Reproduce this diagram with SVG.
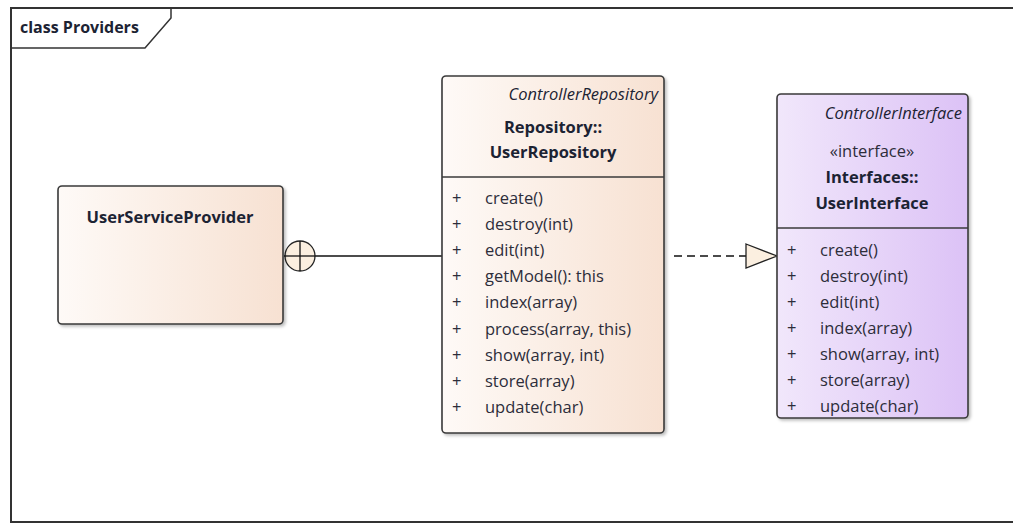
<svg xmlns="http://www.w3.org/2000/svg" width="1013" height="523" viewBox="0 0 1013 523">
<style>
text{font-family:"Open Sans","Noto Sans","Liberation Sans",sans-serif;fill:#1c2333}
.t{font-size:16.5px;font-weight:bold}
.st{font-size:16.5px;font-style:italic}
.m{font-size:16.5px;fill:#2d2d3a}
.box{stroke:#3a3a3a;stroke-width:1.6}
.div{stroke:#3a3a3a;stroke-width:1.6}
</style>
<defs>
<linearGradient id="gPeach" x1="0" x2="1" y1="0" y2="0">
<stop offset="0" stop-color="#fefaf7"/>
<stop offset="1" stop-color="#f7e1d2"/>
</linearGradient>
<linearGradient id="gPurple" x1="0" x2="1" y1="0" y2="0">
<stop offset="0" stop-color="#f1e7fb"/>
<stop offset="1" stop-color="#dcc2f6"/>
</linearGradient>
<filter id="sh" x="-10%" y="-10%" width="130%" height="130%">
<feDropShadow dx="2" dy="2" stdDeviation="1.5" flood-color="#000" flood-opacity="0.25"/>
</filter>
</defs>
<rect width="1013" height="523" fill="#ffffff"/>
<g id="frame">
<path d="M1013,8 H11 V522 H1013" fill="none" stroke="#333" stroke-width="2"/>
<path d="M11,48 H145 L171,18 V8" fill="none" stroke="#333" stroke-width="1.5"/>
<text x="20" y="33" class="t" style="font-size:16px">class Providers</text>
</g>
<g id="connectors">
<line x1="284" y1="256" x2="442" y2="256" stroke="#111" stroke-width="1.3"/>
<circle cx="300" cy="256" r="15" fill="#fbefe0" stroke="#222" stroke-width="1.3"/>
<line x1="285" y1="256" x2="315" y2="256" stroke="#111" stroke-width="1.3"/>
<line x1="300" y1="241" x2="300" y2="271" stroke="#111" stroke-width="1.3"/>
<line x1="674" y1="256" x2="746" y2="256" stroke="#111" stroke-width="1.3" stroke-dasharray="8,5"/>
<polygon points="746,244 777,256 746,268" fill="#fbefe0" stroke="#222" stroke-width="1.3"/>
</g>
<g id="UserServiceProvider">
<rect x="58" y="186" width="225" height="138" rx="4" fill="url(#gPeach)" class="box" filter="url(#sh)"/>
<text x="170" y="223" class="t" text-anchor="middle">UserServiceProvider</text>
</g>
<g id="UserRepository">
<rect x="442" y="76" width="222" height="357" rx="4" fill="url(#gPeach)" class="box" filter="url(#sh)"/>
<line x1="442" y1="177" x2="664" y2="177" class="div"/>
<text x="658" y="100" class="st" text-anchor="end">ControllerRepository</text>
<text x="553" y="133" class="t" text-anchor="middle">Repository::</text>
<text x="553" y="158" class="t" text-anchor="middle">UserRepository</text>
<text x="452" y="204" class="m">+</text><text x="485" y="204" class="m">create()</text>
<text x="452" y="230" class="m">+</text><text x="485" y="230" class="m">destroy(int)</text>
<text x="452" y="256" class="m">+</text><text x="485" y="256" class="m">edit(int)</text>
<text x="452" y="282" class="m">+</text><text x="485" y="282" class="m">getModel(): this</text>
<text x="452" y="308" class="m">+</text><text x="485" y="308" class="m">index(array)</text>
<text x="452" y="335" class="m">+</text><text x="485" y="335" class="m">process(array, this)</text>
<text x="452" y="361" class="m">+</text><text x="485" y="361" class="m">show(array, int)</text>
<text x="452" y="387" class="m">+</text><text x="485" y="387" class="m">store(array)</text>
<text x="452" y="413" class="m">+</text><text x="485" y="413" class="m">update(char)</text>
</g>
<g id="UserInterface">
<rect x="777" y="94" width="191" height="324" rx="4" fill="url(#gPurple)" class="box" filter="url(#sh)"/>
<line x1="777" y1="228" x2="968" y2="228" class="div"/>
<text x="962" y="119" class="st" text-anchor="end">ControllerInterface</text>
<text x="872" y="157" class="m" text-anchor="middle">«interface»</text>
<text x="872" y="183" class="t" text-anchor="middle">Interfaces::</text>
<text x="872" y="209" class="t" text-anchor="middle">UserInterface</text>
<text x="787" y="256" class="m">+</text><text x="820" y="256" class="m">create()</text>
<text x="787" y="282" class="m">+</text><text x="820" y="282" class="m">destroy(int)</text>
<text x="787" y="308" class="m">+</text><text x="820" y="308" class="m">edit(int)</text>
<text x="787" y="334" class="m">+</text><text x="820" y="334" class="m">index(array)</text>
<text x="787" y="360" class="m">+</text><text x="820" y="360" class="m">show(array, int)</text>
<text x="787" y="386" class="m">+</text><text x="820" y="386" class="m">store(array)</text>
<text x="787" y="412" class="m">+</text><text x="820" y="412" class="m">update(char)</text>
</g>
</svg>
